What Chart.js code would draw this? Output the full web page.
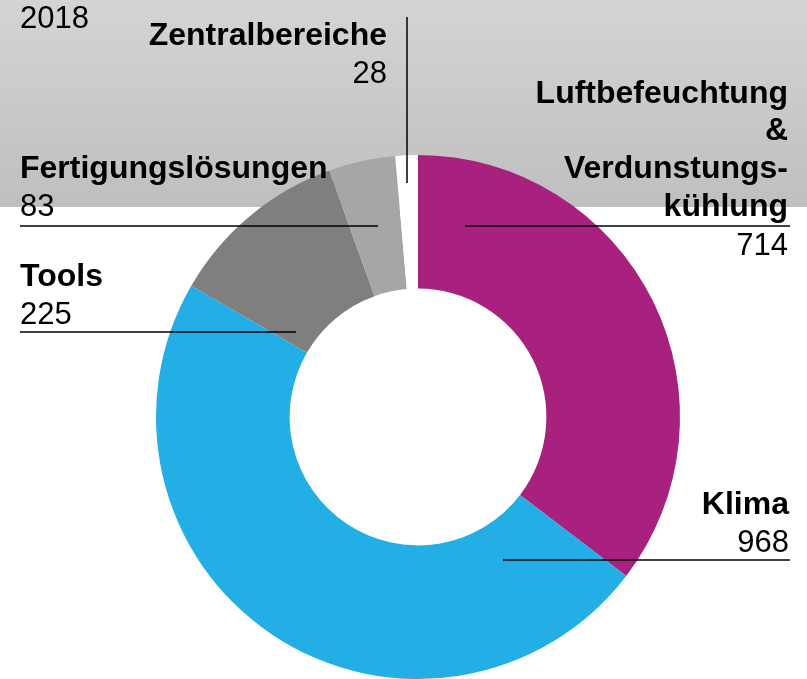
<!DOCTYPE html>
<html>
<head>
<meta charset="utf-8">
<script src="https://cdn.jsdelivr.net/npm/chart.js@4"></script>
<style>
  html, body { margin: 0; padding: 0; background: #fff; }
  #wrap { width: 807px; height: 679px; position: relative; }
</style>
</head>
<body>
<div id="wrap"><canvas id="donut"></canvas></div>
<script>
const categories = ['Luftbefeuchtung & Verdunstungskühlung', 'Klima', 'Tools', 'Fertigungslösungen', 'Zentralbereiche'];
const values = [714, 968, 225, 83, 28];
const colors = ['#a8217f', '#23aee5', '#7f7f7f', '#a6a6a6', '#ffffff'];
const yearLabel = '2018';

// label layout: text lines, anchor, leader line
const labelLayout = [
    { lines: ['Luftbefeuchtung', '&', 'Verdunstungs-', 'kühlung'], x: 788, y: 103, align: 'right', line: [465, 226, 790, 226] },
    { lines: ['Klima'], x: 789, y: 514, align: 'right', line: [503, 560, 790, 560] },
    { lines: ['Tools'], x: 20, y: 286, align: 'left', line: [20, 332, 296, 332] },
    { lines: ['Fertigungslösungen'], x: 20, y: 178, align: 'left', line: [20, 226, 378, 226] },
    { lines: ['Zentralbereiche'], x: 387, y: 45, align: 'right', line: [407, 17, 407, 183] }
];

const fontFamily = '"Liberation Sans", Arial, sans-serif';
const lineH = 38;

const backdrop = {
    id: 'backdrop',
    beforeDraw(chart) {
        const ctx = chart.ctx;
        const g = ctx.createLinearGradient(0, 0, 0, 207);
        g.addColorStop(0, '#d4d4d4');
        g.addColorStop(1, '#bfbfbf');
        ctx.save();
        ctx.fillStyle = g;
        ctx.fillRect(0, 0, chart.width, 207);
        ctx.restore();
    }
};

const labels = {
    id: 'labels',
    afterDraw(chart) {
        const ctx = chart.ctx;
        ctx.save();
        ctx.fillStyle = '#000';
        ctx.textBaseline = 'alphabetic';
        ctx.font = '31px ' + fontFamily;
        ctx.textAlign = 'left';
        ctx.fillText(yearLabel, 20, 28);

        labelLayout.forEach((l, i) => {
            ctx.textAlign = l.align;
            ctx.font = 'bold 32px ' + fontFamily;
            l.lines.forEach((t, j) => ctx.fillText(t, l.x, l.y + j * lineH - (j > 0 ? 1 : 0)));
            ctx.font = '31px ' + fontFamily;
            ctx.fillText(String(values[i]), l.x, l.y + l.lines.length * lineH);

            ctx.strokeStyle = '#000';
            ctx.lineWidth = 1.5;
            ctx.beginPath();
            ctx.moveTo(l.line[0], l.line[1]);
            ctx.lineTo(l.line[2], l.line[3]);
            ctx.stroke();
        });
        ctx.restore();
    }
};

new Chart(document.getElementById('donut').getContext('2d'), {
    type: 'doughnut',
    data: {
        labels: categories,
        datasets: [{
            data: values,
            backgroundColor: colors,
            borderWidth: 0
        }]
    },
    options: {
        responsive: true,
        maintainAspectRatio: false,
        animation: false,
        cutout: '49%',
        layout: {
            padding: { left: 156, right: 127, top: 155, bottom: 0 }
        },
        plugins: {
            legend: { display: false },
            tooltip: { enabled: false }
        }
    },
    plugins: [backdrop, labels]
});
</script>
</body>
</html>
